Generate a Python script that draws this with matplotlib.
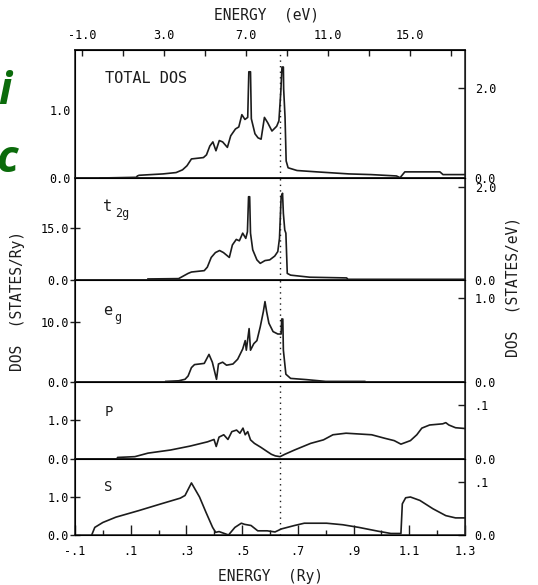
import matplotlib
matplotlib.use('Agg')
import matplotlib.pyplot as plt
from matplotlib.ticker import FixedLocator, NullFormatter

plt.rcParams['font.family'] = ['DejaVu Sans Mono']

# energies in Ry, DOS values
tot_e = [-0.01, 0.12, 0.124, 0.13, 0.216, 0.263, 0.286, 0.302, 0.318, 0.361, 0.372,
         0.384, 0.395, 0.406, 0.418, 0.43, 0.447, 0.459, 0.476, 0.488, 0.499, 0.51,
         0.52, 0.524, 0.53, 0.533, 0.546, 0.557, 0.568, 0.58, 0.592, 0.607, 0.624,
         0.632, 0.639, 0.643, 0.648, 0.649, 0.654, 0.658, 0.665, 0.697, 0.768, 0.883,
         0.963, 1.054, 1.067, 1.084, 1.21, 1.221, 1.3]
tot_v = [0.0, 0.01, 0.03, 0.04, 0.06, 0.08, 0.12, 0.18, 0.28, 0.30, 0.34,
         0.47, 0.53, 0.40, 0.55, 0.53, 0.45, 0.62, 0.72, 0.75, 0.93, 0.86,
         0.89, 1.56, 1.56, 0.87, 0.65, 0.59, 0.57, 0.89, 0.81, 0.69, 0.76,
         0.84, 1.28, 1.63, 1.63, 1.31, 0.89, 0.25, 0.15, 0.11, 0.09, 0.06,
         0.05, 0.03, 0.005, 0.09, 0.09, 0.05, 0.05]

t2g_e = [0.162, 0.272, 0.289, 0.306, 0.318, 0.364, 0.375, 0.389, 0.404, 0.419, 0.433,
         0.454, 0.465, 0.479, 0.49, 0.502, 0.513, 0.519, 0.523, 0.527, 0.53, 0.538,
         0.553, 0.565, 0.582, 0.599, 0.617, 0.628, 0.634, 0.64, 0.645, 0.648, 0.653,
         0.657, 0.662, 0.674, 0.743, 0.875, 0.88, 1.3]
t2g_v = [0.3, 0.4, 1.15, 1.9, 2.3, 2.7, 3.7, 6.5, 7.9, 8.5, 7.9,
         6.5, 10.1, 11.7, 11.3, 13.5, 12.0, 13.9, 24.0, 24.0, 13.5, 8.7,
         5.8, 4.8, 5.6, 5.8, 6.9, 8.2, 12.0, 24.0, 25.0, 19.2, 14.4,
         13.5, 1.9, 1.4, 0.8, 0.6, 0.2, 0.2]

eg_e = [0.226, 0.272, 0.295, 0.306, 0.318, 0.329, 0.364, 0.381, 0.393, 0.408, 0.415,
        0.43, 0.444, 0.467, 0.484, 0.502, 0.511, 0.515, 0.525, 0.53, 0.542, 0.553,
        0.565, 0.576, 0.582, 0.588, 0.596, 0.611, 0.628, 0.64, 0.642, 0.646, 0.648,
        0.657, 0.674, 0.73, 0.80, 0.94]
eg_v = [0.1, 0.2, 0.45, 1.0, 2.4, 2.9, 3.1, 4.6, 3.3, 0.45, 3.0,
        3.3, 2.8, 3.0, 3.8, 5.5, 6.9, 5.3, 8.9, 5.3, 6.4, 6.9,
        9.2, 11.7, 13.4, 11.7, 9.8, 8.4, 8.0, 8.0, 10.5, 10.5, 5.3,
        1.3, 0.6, 0.4, 0.1, 0.1]

p_e = [-0.098, 0.05, 0.053, 0.115, 0.162, 0.243, 0.313, 0.376, 0.399, 0.407, 0.417,
       0.434, 0.449, 0.463, 0.48, 0.492, 0.503, 0.511, 0.52, 0.53, 0.544, 0.567,
       0.59, 0.605, 0.619, 0.636, 0.653, 0.688, 0.746, 0.792, 0.826, 0.873, 0.919,
       0.965, 1.012, 1.046, 1.07, 1.104, 1.127, 1.145, 1.173, 1.22, 1.231, 1.242,
       1.266, 1.3]
p_v = [0.0, 0.0, 0.04, 0.06, 0.15, 0.23, 0.33, 0.44, 0.50, 0.32, 0.56,
       0.62, 0.50, 0.70, 0.74, 0.66, 0.79, 0.62, 0.70, 0.49, 0.40, 0.30,
       0.19, 0.12, 0.08, 0.06, 0.12, 0.23, 0.40, 0.49, 0.62, 0.66, 0.64,
       0.62, 0.53, 0.47, 0.38, 0.47, 0.62, 0.79, 0.87, 0.90, 0.93, 0.87,
       0.80, 0.78]

s_e = [-0.04, -0.029, 0.0, 0.047, 0.128, 0.209, 0.278, 0.295, 0.318, 0.347, 0.37,
       0.394, 0.405, 0.417, 0.44, 0.451, 0.474, 0.497, 0.509, 0.532, 0.556, 0.59,
       0.618, 0.641, 0.688, 0.723, 0.803, 0.861, 0.919, 0.988, 1.034, 1.07, 1.075,
       1.087, 1.104, 1.138, 1.185, 1.231, 1.266, 1.3]
s_v = [0.0, 0.2, 0.33, 0.47, 0.64, 0.82, 0.97, 1.04, 1.37, 1.0, 0.6,
       0.2, 0.07, 0.09, 0.03, 0.0, 0.2, 0.31, 0.28, 0.25, 0.11, 0.11,
       0.08, 0.16, 0.25, 0.31, 0.31, 0.27, 0.2, 0.1, 0.04, 0.04, 0.82,
       0.98, 1.0, 0.91, 0.69, 0.51, 0.45, 0.45]

e_fermi = 0.635

# panel: data, left ylim, left ticks, right ylim, right ticks, labels
panels = [
    (tot_e, tot_v, 1.88, [0, 1.0], ['0.0', '1.0'], 2.83, [0, 2.0], ['0.0', '2.0']),
    (t2g_e, t2g_v, 29.4, [0, 15.0], ['0.0', '15.0'], 2.19, [0, 2.0], ['0.0', '2.0']),
    (eg_e, eg_v, 17.0, [0, 10.0], ['0.0', '10.0'], 1.214, [0, 1.0], ['0.0', '1.0']),
    (p_e, p_v, 1.97, [0, 1.0], ['0.0', '1.0'], 0.1422, [0, 0.1], ['0.0', '.1']),
    (s_e, s_v, 2.0, [0, 1.0], ['0.0', '1.0'], 0.1434, [0, 0.1], ['0.0', '.1']),
]
# pixel rows of panel edges (top, bottom)
rows = [(50, 178), (178, 280), (280, 382), (382, 459), (459, 535)]

W, H = 538, 585
fig = plt.figure(figsize=(W / 100, H / 100), dpi=100)
ink = '#1c1c1c'
tick_fs = 8.5

axes = []
for (e, v, ymax, lt, ll, rmax, rt, rl), (top, bot) in zip(panels, rows):
    ax = fig.add_axes([75 / W, 1 - bot / H, 390 / W, (bot - top) / H])
    ax.plot(e, v, color=ink, lw=1.2)
    ax.axvline(e_fermi, color=ink, lw=1.0, ls=(0, (1, 3)))
    ax.set_xlim(-0.1, 1.3)
    ax.set_ylim(0, ymax)
    ax.set_yticks(lt)
    ax.set_yticklabels(ll, fontsize=tick_fs)
    ax.tick_params(axis='y', direction='inout', length=7, width=1, pad=1, color=ink)
    ax.tick_params(axis='x', bottom=False, labelbottom=False)
    for sp in ax.spines.values():
        sp.set_linewidth(1.1)
        sp.set_color(ink)
    rax = ax.twinx()
    rax.set_ylim(0, rmax)
    rax.set_yticks(rt)
    rax.set_yticklabels(rl, fontsize=tick_fs)
    rax.tick_params(axis='y', direction='in', length=5, width=1, pad=7, color=ink)
    rax.spines['right'].set_color(ink)
    axes.append(ax)

ax_tot, ax_t2g, ax_eg, ax_p, ax_s = axes
ax_tot.tick_params(axis='y', length=0, pad=3)

# bottom Ry axis
ax_s.tick_params(axis='x', bottom=True, labelbottom=True, direction='in',
                 length=7, width=1, pad=7, labelsize=tick_fs, color=ink)
ax_s.set_xticks([-0.1, 0.1, 0.3, 0.5, 0.7, 0.9, 1.1, 1.3])
ax_s.set_xticklabels(['-.1', '.1', '.3', '.5', '.7', '.9', '1.1', '1.3'])
ax_s.xaxis.set_minor_locator(FixedLocator([0.0, 0.2, 0.4, 0.6, 0.8, 1.0, 1.2]))
ax_s.tick_params(axis='x', which='minor', direction='in', length=3.5, width=1, color=ink)

# top eV axis
sec = ax_tot.secondary_xaxis('top', functions=(lambda r: r * 13.6, lambda ev: ev / 13.6))
sec.set_xticks([-1.0, 3.0, 7.0, 11.0, 15.0])
sec.set_xticklabels(['-1.0', '3.0', '7.0', '11.0', '15.0'])
sec.xaxis.set_minor_locator(FixedLocator([1.0, 5.0, 9.0, 13.0, 17.0]))
sec.xaxis.set_minor_formatter(NullFormatter())
sec.tick_params(which='both', direction='in', length=4, width=1, pad=6,
                labelsize=tick_fs, color=ink)
sec.spines['top'].set_linewidth(1.1)

# panel titles
ax_tot.text(0.077, 0.78, 'TOTAL DOS', transform=ax_tot.transAxes, fontsize=11,
            va='center', color=ink)
ax_t2g.text(0.072, 0.72, 't', transform=ax_t2g.transAxes, fontsize=11, va='center', color=ink)
ax_t2g.text(0.102, 0.65, '2g', transform=ax_t2g.transAxes, fontsize=8.5, va='center', color=ink)
ax_eg.text(0.072, 0.70, 'e', transform=ax_eg.transAxes, fontsize=11, va='center', color=ink)
ax_eg.text(0.100, 0.63, 'g', transform=ax_eg.transAxes, fontsize=8.5, va='center', color=ink)
ax_p.text(0.075, 0.61, 'P', transform=ax_p.transAxes, fontsize=10, va='center', color=ink)
ax_s.text(0.075, 0.63, 'S', transform=ax_s.transAxes, fontsize=10, va='center', color=ink)

# axis titles
fig.text(267 / W, 1 - 15 / H, 'ENERGY  (eV)', ha='center', va='center', fontsize=10.5, color=ink)
fig.text(271 / W, 1 - 577 / H, 'ENERGY  (Ry)', ha='center', va='center', fontsize=10.5, color=ink)
fig.text(18 / W, 1 - 301 / H, 'DOS  (STATES/Ry)', rotation=90, ha='center', va='center',
         fontsize=10.5, color=ink)
fig.text(513 / W, 1 - 287 / H, 'DOS  (STATES/eV)', rotation=90, ha='center', va='center',
         fontsize=10.5, color=ink)

# green letters from the page behind the figure
fig.text(-2 / W, 1 - 93 / H, 'i', fontsize=32, fontweight='bold', style='italic',
         family='Open Sans', color='#0b6b0b', ha='left', va='center')
fig.text(-4 / W, 1 - 160 / H, 'c', fontsize=32, fontweight='bold', style='italic',
         family='Open Sans', color='#0b6b0b', ha='left', va='center')

fig.savefig('out.png', dpi=100)
